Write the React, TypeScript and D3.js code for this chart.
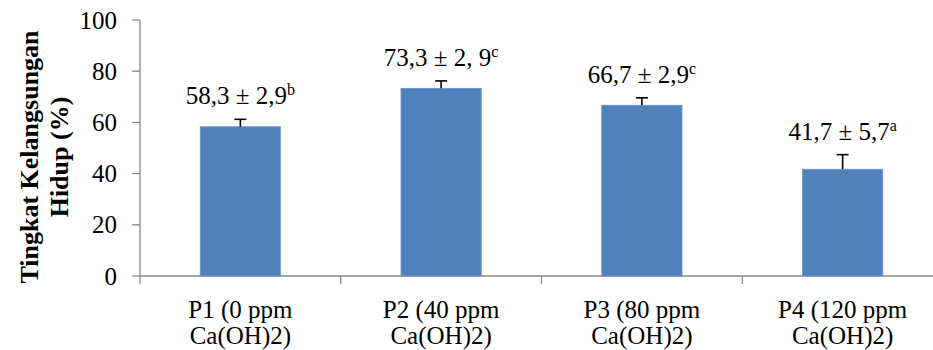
import * as d3 from 'd3';

const categories = ['P1', 'P2', 'P3', 'P4'];
const labelLine1 = ['P1 (0 ppm', 'P2 (40 ppm', 'P3 (80 ppm', 'P4 (120 ppm'];
const labelLine2 = ['Ca(OH)2)', 'Ca(OH)2)', 'Ca(OH)2)', 'Ca(OH)2)'];
const means = [58.3, 73.3, 66.7, 41.7];
const errors = [2.9, 2.9, 2.9, 5.7];
const valueText = ['58,3 ± 2,9', '73,3 ± 2, 9', '66,7 ± 2,9', '41,7 ± 5,7'];
const letters = ['b', 'c', 'c', 'a'];
const yTicks = [0, 20, 40, 60, 80, 100];

const W = 933;
const H = 350;
const FONT = 'Liberation Serif';
const axisColor = '#8a8a8a';

const App = () => {
  const left = 140;
  const x = d3.scaleBand()
    .domain(categories)
    .range([left, 943])
    .paddingInner(0.6)
    .paddingOuter(0.3);
  const y = d3.scaleLinear().domain([0, 100]).range([276, 20]);
  const step = x.step();
  const cx = (i: number) => (x(categories[i]) as number) + x.bandwidth() / 2;

  return (
    <svg
      width={W}
      height={H}
      style={{ position: 'absolute', left: 0, top: 0, background: '#fff' }}
    >
      {/* y axis */}
      <line x1={left} x2={left} y1={y(100)} y2={y(0)} stroke={axisColor} strokeWidth={1.3} />
      {yTicks.map(t => (
        <g key={t}>
          <line x1={left - 8} x2={left} y1={y(t)} y2={y(t)} stroke={axisColor} strokeWidth={1.3} />
          <text x={left - 23} y={y(t)} dy="0.34em" textAnchor="end" fontFamily={FONT} fontSize={25} fill="#000">
            {t}
          </text>
        </g>
      ))}

      {/* x axis */}
      <line x1={left} x2={W} y1={y(0)} y2={y(0)} stroke={axisColor} strokeWidth={1.3} />
      {d3.range(categories.length + 1).map(i => (
        <line key={i} x1={left + i * step} x2={left + i * step} y1={y(0)} y2={y(0) + 8}
          stroke={axisColor} strokeWidth={1.3} />
      ))}

      {/* bars */}
      {means.map((m, i) => (
        <rect key={i} x={x(categories[i])} y={y(m)} width={x.bandwidth()} height={y(0) - y(m)}
          fill="#4f81bd" stroke="#6f97c9" strokeWidth={0.8} />
      ))}

      {/* error bars, upper only */}
      {means.map((m, i) => (
        <g key={i} stroke="#000" strokeWidth={1.6}>
          <line x1={cx(i)} x2={cx(i)} y1={y(m)} y2={y(m + errors[i])} />
          <line x1={cx(i) - 6} x2={cx(i) + 6} y1={y(m + errors[i])} y2={y(m + errors[i])} />
        </g>
      ))}

      {/* value labels */}
      {means.map((m, i) => (
        <text key={i} x={cx(i)} y={y(m + errors[i]) - 15} textAnchor="middle"
          fontFamily={FONT} fontSize={25} fill="#000">
          <tspan>{valueText[i]}</tspan>
          <tspan fontSize={16} dy={-9}>{letters[i]}</tspan>
        </text>
      ))}

      {/* category labels */}
      {categories.map((c, i) => (
        <text key={c} textAnchor="middle" fontFamily={FONT} fontSize={25} fill="#000">
          <tspan x={cx(i)} y={318}>{labelLine1[i]}</tspan>
          <tspan x={cx(i)} y={344}>{labelLine2[i]}</tspan>
        </text>
      ))}

      {/* y title */}
      <text transform="rotate(-90)" textAnchor="middle" fontFamily={FONT} fontWeight="bold"
        fontSize={26} fill="#000">
        <tspan x={-157} y={38}>Tingkat Kelangsungan</tspan>
        <tspan x={-157} y={68}>Hidup (%)</tspan>
      </text>
    </svg>
  );
};

export default App;
